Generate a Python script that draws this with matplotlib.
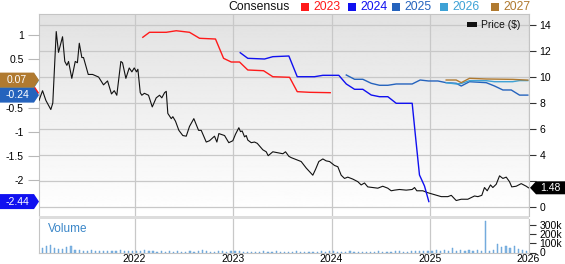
import numpy as np
import matplotlib
matplotlib.use("Agg")
import matplotlib.pyplot as plt
from matplotlib.patches import Polygon, Rectangle

plt.rcParams['font.family'] = ['Liberation Sans', 'DejaVu Sans']
plt.rcParams['axes.unicode_minus'] = False

# ---------------- data ----------------
price_t = [2021.03, 2021.066, 2021.10, 2021.15, 2021.17, 2021.205, 2021.228, 2021.269, 2021.292, 2021.313,
           2021.33, 2021.363, 2021.398, 2021.42, 2021.439, 2021.465, 2021.482, 2021.53, 2021.574, 2021.635,
           2021.685, 2021.726, 2021.766, 2021.794, 2021.82, 2021.861, 2021.878, 2021.912, 2021.946, 2021.973,
           2021.997, 2022.02, 2022.034, 2022.058, 2022.074, 2022.10, 2022.142, 2022.18, 2022.22, 2022.254,
           2022.277, 2022.305, 2022.322, 2022.338, 2022.373, 2022.389, 2022.416, 2022.45, 2022.49, 2022.525,
           2022.558, 2022.602, 2022.65, 2022.677, 2022.728, 2022.761, 2022.812, 2022.836, 2022.856, 2022.914,
           2022.957, 2022.998, 2023.025, 2023.059, 2023.076, 2023.093, 2023.117, 2023.134, 2023.15, 2023.185,
           2023.218, 2023.246, 2023.303, 2023.337, 2023.357, 2023.404, 2023.439, 2023.506, 2023.533, 2023.567,
           2023.591, 2023.642, 2023.692, 2023.743, 2023.81, 2023.838, 2023.871, 2023.912, 2023.946, 2023.98,
           2024.03, 2024.064, 2024.098, 2024.132, 2024.165, 2024.216, 2024.267, 2024.301, 2024.335, 2024.368,
           2024.419, 2024.47, 2024.52, 2024.571, 2024.606, 2024.64, 2024.69, 2024.758, 2024.819, 2024.843,
           2024.866, 2024.927, 2024.978, 2025.046, 2025.114, 2025.181, 2025.216, 2025.266, 2025.317, 2025.384,
           2025.452, 2025.486, 2025.526, 2025.553, 2025.581, 2025.614, 2025.638, 2025.672, 2025.706, 2025.74,
           2025.774, 2025.807, 2025.83, 2025.875, 2025.926, 2025.977, 2026.0]
price_v = [8.2, 8.95, 8.2, 7.5, 8.0, 13.5, 11.9, 13.1, 11.2, 10.9,
           11.2, 9.9, 11.2, 11.1, 12.6, 11.5, 11.5, 10.2, 10.2, 10.0,
           9.4, 9.7, 8.7, 8.95, 8.6, 11.2, 11.1, 9.9, 10.7, 10.4,
           10.7, 10.4, 10.6, 8.8, 8.6, 8.75, 8.6, 7.7, 8.4, 8.6,
           8.4, 8.8, 8.9, 7.2, 6.8, 6.95, 6.6, 5.9, 5.5, 5.45,
           6.2, 6.8, 5.9, 5.9, 5.0, 5.1, 5.45, 5.0, 5.65, 5.5,
           4.95, 5.1, 5.6, 6.1, 5.8, 5.85, 5.4, 5.5, 5.15, 4.95,
           5.0, 4.9, 4.4, 4.25, 3.95, 4.25, 4.2, 4.1, 4.25, 3.9,
           3.8, 3.65, 3.5, 3.0, 2.45, 2.9, 3.5, 3.7, 3.55, 3.5,
           3.2, 3.1, 2.45, 2.2, 2.3, 2.15, 1.95, 1.7, 1.85, 1.55,
           1.5, 1.45, 1.6, 1.45, 1.25, 1.3, 1.35, 1.3, 1.35, 1.5,
           1.25, 1.25, 1.1, 0.95, 0.8, 0.8, 0.9, 0.5, 0.6, 0.6,
           0.85, 0.8, 0.9, 1.5, 1.25, 1.7, 1.5, 1.75, 2.4, 2.2,
           2.3, 1.95, 1.55, 1.6, 1.8, 1.6, 1.48]

eps23_t = [2022.084, 2022.152, 2022.322, 2022.423, 2022.558, 2022.66, 2022.822, 2022.904, 2022.982, 2023.066,
           2023.15, 2023.31, 2023.404, 2023.574, 2023.652, 2023.777, 2023.987]
eps23_v = [0.955, 1.058, 1.058, 1.09, 1.058, 0.934, 0.919, 0.52, 0.444, 0.444,
           0.279, 0.264, 0.14, 0.128, -0.169, -0.182, -0.19]

eps24_t = [2023.073, 2023.15, 2023.32, 2023.404, 2023.567, 2023.652, 2023.827, 2023.912, 2024.074, 2024.15,
           2024.234, 2024.318, 2024.403, 2024.487, 2024.572, 2024.657, 2024.819, 2024.853, 2024.893, 2024.944,
           2024.988]
eps24_v = [0.636, 0.52, 0.506, 0.554, 0.568, 0.14, 0.14, 0.169, 0.169, -0.01,
           -0.12, -0.12, -0.238, -0.273, -0.273, -0.409, -0.409, -1.099, -1.89, -2.118,
           -2.44]

eps25_t = [2024.15, 2024.234, 2024.318, 2024.403, 2024.487, 2024.572, 2024.657, 2024.819, 2024.90, 2024.985,
           2025.08, 2025.164, 2025.266, 2025.317, 2025.401, 2025.571, 2025.655, 2025.74, 2025.825, 2025.909,
           2025.993]
eps25_v = [0.176, 0.087, 0.087, 0.004, -0.037, -0.037, -0.01, -0.01, 0.072, 0.052,
           0.052, 0.017, 0.004, -0.052, 0.037, 0.017, -0.052, -0.134, -0.134, -0.24,
           -0.24]

eps26_t = [2025.164, 2025.266, 2025.317, 2025.401, 2025.571, 2025.655, 2025.84, 2025.909, 2025.993]
eps26_v = [0.017, -0.01, 0.0, 0.058, 0.058, 0.037, 0.037, 0.06, 0.06]

eps27_t = [2025.164, 2025.266, 2025.317, 2025.401, 2025.571, 2025.84, 2025.993]
eps27_v = [0.072, 0.072, 0.017, 0.107, 0.093, 0.085, 0.07]

# half-monthly volume (thousands of shares), starting Jan 2021
vol_k = [30, 45, 70, 80, 55, 40, 35, 60, 75, 30, 25, 20, 20, 25, 15, 15, 20, 15, 12, 15, 25, 15, 12, 20,
         15, 20, 25, 15, 12, 10, 15, 10, 12, 10, 15, 10, 10, 12, 10, 20, 25, 15, 10, 10, 12, 15, 10, 12,
         20, 12, 10, 10, 10, 8, 10, 12, 8, 10, 15, 10, 10, 8, 10, 12, 10, 8, 10, 10, 10, 15, 10, 12,
         12, 10, 8, 10, 12, 10, 10, 8, 10, 8, 10, 12, 10, 8, 10, 15, 12, 10, 10, 20, 15, 12, 15, 12,
         20, 25, 15, 25, 20, 50, 20, 25, 15, 25, 20, 25, 15, 345, 20, 30, 97, 60, 75, 45, 75, 35, 25, 15]

year_ticks = [2022, 2023, 2024, 2025, 2026]
price_ticks = [0, 2, 4, 6, 8, 10, 12, 14]
price_ticklabels = ['0', '', '4', '6', '8', '10', '12', '14']   # "2" is hidden behind the price tag
eps_ticks = [1, 0.5, -0.5, -1, -1.5, -2]
eps_ticklabels = ['1', '0.5', '-0.5', '-1', '-1.5', '-2']
vol_ticks = [0, 100000, 200000, 300000]
vol_ticklabels = ['0', '100k', '200k', '300k']

legend_years = ['2023', '2024', '2025', '2026', '2027']
c23, c24, c25, c26, c27 = '#ff1a1a', '#1010f0', '#2563bd', '#3ea2d6', '#b07a30'
legend_colors = [c23, c24, c25, c26, c27]

# ---------------- figure ----------------
W, H = 565, 264
fig = plt.figure(figsize=(W / 100, H / 100), dpi=100)
fig.patch.set_facecolor('white')


def fx(px):
    return px / W


def fy(py):
    return 1 - py / H


L, R = 39, 528.5
TOP, MB, VT, VB = 14, 216, 219, 252.5
ax = fig.add_axes([fx(L), fy(MB), (R - L) / W, (MB - TOP) / H])
axv = fig.add_axes([fx(L), fy(VB), (R - L) / W, (VB - VT) / H])

grid_c = '#c8c8c8'
spine_c = '#c4c4c4'

# eps axes (twin) -- created first so tick sides can be fixed afterwards
axe = ax.twinx()

# main (price) axes
ax.imshow(np.linspace(0.885, 1.0, 256)[:, None], cmap='gray', vmin=0, vmax=1,
          aspect='auto', extent=[0, 1, 0, 1], transform=ax.transAxes, zorder=0)
ax.set_xlim(2021.03, 2026.0)
ax.set_ylim(-0.69, 14.85)
ax.yaxis.tick_right()
ax.set_yticks(price_ticks)
ax.set_yticklabels(price_ticklabels)
ax.set_xticks(year_ticks)
ax.grid(True, color=grid_c, lw=0.9)
ax.tick_params(axis='y', which='both', left=False, labelleft=False, right=True, labelright=True,
               length=5, color='#333333', labelsize=7.5, pad=3, width=0.8)
ax.tick_params(axis='x', length=0, labelbottom=False)
for s in ax.spines.values():
    s.set_color(spine_c)
ax.spines['bottom'].set_visible(False)
ax.plot(price_t, price_v, color='#111111', lw=0.8, zorder=3)

axe.set_ylim(-2.738, 1.436)
axe.set_yticks(eps_ticks)
axe.set_yticklabels(eps_ticklabels)
axe.tick_params(axis='y', which='both', left=True, labelleft=True, right=False, labelright=False,
                length=8, color='#b8b8b8', labelsize=7.5, pad=3, width=0.8)
for s in axe.spines.values():
    s.set_visible(False)
axe.plot(eps23_t, eps23_v, color=c23, lw=1.0)
axe.plot(eps24_t, eps24_v, color=c24, lw=1.0)
axe.plot(eps25_t, eps25_v, color=c25, lw=1.0)
axe.plot(eps26_t, eps26_v, color=c26, lw=1.0)
axe.plot(eps27_t, eps27_v, color=c27, lw=1.0)

# volume axes
vol_t = 2021.0 + (np.arange(len(vol_k)) + 0.5) / 24.0
axv.bar(vol_t, np.array(vol_k) * 1000, width=1 / 80, color='#86b8e4', edgecolor='#5b9bd5', lw=0.3, zorder=2)
axv.set_xlim(2021.03, 2026.0)
axv.set_ylim(0, 370000)
axv.yaxis.tick_right()
axv.set_yticks(vol_ticks)
axv.set_yticklabels(vol_ticklabels)
axv.set_xticks(year_ticks)
axv.set_xticklabels([str(y) for y in year_ticks])
axv.grid(True, axis='x', color=grid_c, lw=0.9)
axv.tick_params(axis='y', length=5, color='#333333', labelsize=7.5, pad=3, width=0.8)
axv.tick_params(axis='x', length=0, labelsize=7.5, pad=1)
for s in axv.spines.values():
    s.set_color(spine_c)
axv.spines['top'].set_visible(False)
axv.text(0.018, 0.7, 'Volume', transform=axv.transAxes, color='#3a86c8', fontsize=8.5, va='center')

# separator band
fig.patches.append(Rectangle((fx(L), fy(VT)), (R - L) / W, (VT - MB) / H,
                             transform=fig.transFigure, facecolor='#dddddd', edgecolor='none'))

# top legend
fig.text(fx(228), fy(6.5), 'Consensus', fontsize=8.8, va='center', ha='left', color='#111111')
sq_x = [301, 348, 392, 440, 491]
for x0, lab, col in zip(sq_x, legend_years, legend_colors):
    fig.patches.append(Rectangle((fx(x0), fy(10.5)), 8 / W, 8 / H, transform=fig.transFigure,
                                 facecolor=col, edgecolor='none'))
    fig.text(fx(x0 + 12.5), fy(6.5), lab, fontsize=8.8, va='center', ha='left', color=col)

# price legend
fig.patches.append(Rectangle((fx(467), fy(27)), 10 / W, 5 / H, transform=fig.transFigure,
                             facecolor='#111111', edgecolor='none'))
fig.text(fx(481), fy(25), 'Price ($)', fontsize=7.5, va='center', ha='left', color='#111111')


# value tags
def ypix(axes, val):
    return H - axes.transData.transform((2022.0, val))[1]


def tag_left(val, text, color, z, show_text=True):
    y = ypix(axe, val)
    h = 7.5
    pts = [(0, y - h), (34, y - h), (39, y), (34, y + h), (0, y + h)]
    fig.patches.append(Polygon([(fx(a), fy(b)) for a, b in pts], closed=True, transform=fig.transFigure,
                               facecolor=color, edgecolor='none', zorder=z))
    if show_text:
        fig.text(fx(17), fy(y), text, color='white', fontsize=7.5, ha='center', va='center', zorder=z + 0.5)


# hidden tags (covered by later ones) drawn first, without their text
tag_left(eps23_v[-1], '-0.19', c23, 5, show_text=False)
tag_left(eps26_v[-1], '0.06', c26, 6, show_text=False)
tag_left(eps25_v[-1], '-0.24', c25, 7)
tag_left(eps27_v[-1], '0.07', c27, 8)
tag_left(eps24_v[-1], '-2.44', c24, 9)

yp = ypix(ax, price_v[-1])
h = 6.5
pts = [(530, yp), (536, yp - h), (565, yp - h), (565, yp + h), (536, yp + h)]
fig.patches.append(Polygon([(fx(a), fy(b)) for a, b in pts], closed=True, transform=fig.transFigure,
                           facecolor='#000000', edgecolor='none', zorder=5))
fig.text(fx(550), fy(yp), '1.48', color='white', fontsize=7.5, ha='center', va='center', zorder=6)

fig.savefig('out.png', dpi=100)
